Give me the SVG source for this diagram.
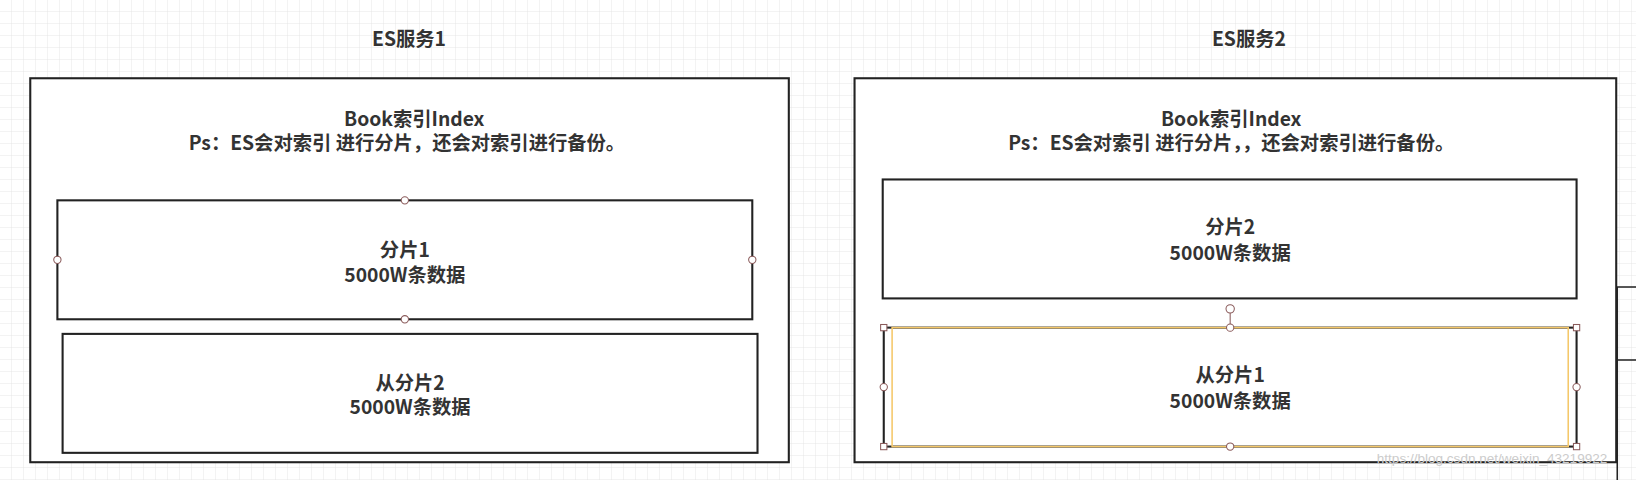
<svg xmlns="http://www.w3.org/2000/svg" width="1636" height="480" viewBox="0 0 1636 480">
<defs>
<pattern id="grid" width="12" height="12" patternUnits="userSpaceOnUse"><path d="M12 0V12H0" fill="none" stroke="#e6e6e6" stroke-width="1"/></pattern>
<style>
.t{font-family:"Noto Sans CJK SC","Liberation Sans",sans-serif;font-weight:bold;font-size:18.5px;fill:#333;text-anchor:middle}
.box{fill:#fff;stroke:#222;stroke-width:2}
.h{fill:#fff;stroke:#8a5a5a;stroke-width:1}
</style>
</defs>
<rect width="1636" height="480" fill="#fff"/>
<rect width="1636" height="480" fill="url(#grid)"/>
<g transform="scale(1.0434)">
<g id="es1">
<text class="t" x="392" y="44">ES服务1</text>
<rect class="box" x="29" y="75" width="727" height="368"/>
<text class="t" x="397" y="121">Book索引Index</text>
<text class="t" x="390" y="144">Ps：ES会对索引 进行分片，还会对索引进行备份。</text>
</g>
<g id="shard1">
<rect class="box" x="55" y="192" width="666" height="114" stroke-width="1.5"/>
<circle class="h" cx="388" cy="192" r="3.5" stroke="#555"/><circle class="h" cx="55" cy="249" r="3.5" stroke="#555"/><circle class="h" cx="721" cy="249" r="3.5" stroke="#555"/><circle class="h" cx="388" cy="306" r="3.5" stroke="#555"/>
<text class="t" x="388" y="246">分片1</text>
<text class="t" x="388" y="270">5000W条数据</text>
</g>
<g id="replica2">
<rect class="box" x="60" y="320" width="666" height="114" stroke-width="1.5"/>
<text class="t" x="393" y="374">从分片2</text>
<text class="t" x="393" y="397">5000W条数据</text>
</g>
<g id="es2">
<text class="t" x="1197" y="44">ES服务2</text>
<rect class="box" x="819" y="75" width="730" height="368"/>
<text class="t" x="1180" y="121">Book索引Index</text>
<text class="t" x="1180" y="144">Ps：ES会对索引 进行分片，，还会对索引进行备份。</text>
</g>
<g id="shard2">
<rect class="box" x="846" y="172" width="665" height="114" stroke-width="1.5"/>
<text class="t" x="1179" y="224">分片2</text>
<text class="t" x="1179" y="249">5000W条数据</text>
</g>
<g id="replica1">
<rect class="box" x="847" y="314" width="664" height="114" stroke-width="1.5"/>
<rect x="855" y="314" width="648" height="114" fill="none" stroke="#f5c86a" stroke-width="1.5"/>
<line x1="1179" y1="300" x2="1179" y2="314" stroke="#8a5a5a"/>
<circle class="h" cx="1179" cy="296" r="4"/>
<circle class="h" cx="1179" cy="314" r="3.5"/><circle class="h" cx="1179" cy="428" r="3.5"/><circle class="h" cx="847" cy="371" r="3.5"/><circle class="h" cx="1511" cy="371" r="3.5"/>
<rect class="h" x="844" y="311" width="6" height="6"/><rect class="h" x="1508" y="311" width="6" height="6"/><rect class="h" x="844" y="425" width="6" height="6"/><rect class="h" x="1508" y="425" width="6" height="6"/>
<text class="t" x="1179" y="366">从分片1</text>
<text class="t" x="1179" y="391">5000W条数据</text>
</g>
<g id="edge" fill="none" stroke="#222" stroke-width="1.5">
<path d="M1568 275H1550V345H1568M1550 345V460"/>
</g>
<text x="1430" y="444" font-family="Liberation Sans,sans-serif" font-size="13" fill="#ccc" text-anchor="middle">https://blog.csdn.net/weixin_43219922</text>
</g>
<g id="connectors"/>
</svg>
